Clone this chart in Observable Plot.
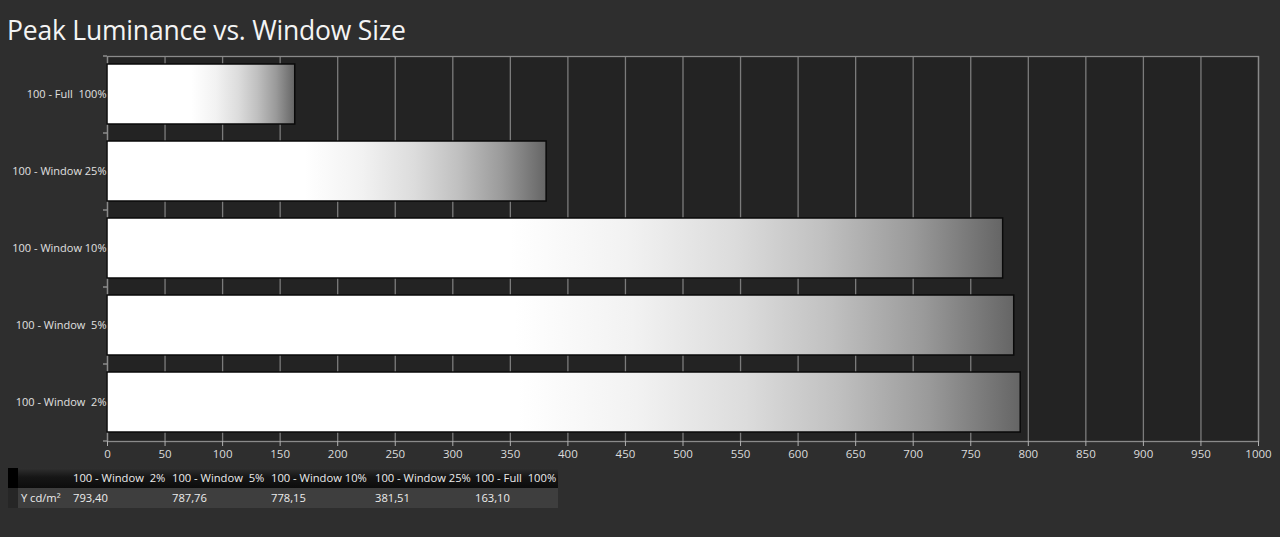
<!DOCTYPE html>
<html>
<head>
<meta charset="utf-8">
<script src="https://cdn.jsdelivr.net/npm/d3@7"></script>
<script src="https://cdn.jsdelivr.net/npm/@observablehq/plot@0.6"></script>
<style>
  html, body { margin: 0; padding: 0; background: #2e2e2e; width: 1280px; height: 537px; overflow: hidden; }
  body { position: relative; font-family: "Open Sans", "Noto Sans", sans-serif; }
  #title { position: absolute; left: 7px; top: 12px; font-size: 26.5px; color: #f4f4f4; white-space: pre; letter-spacing: -0.2px; }
  #chart { position: absolute; left: 0; top: 0; }
  #chart svg { white-space: pre; }
  #tbl { position: absolute; left: 8px; top: 468px; border-collapse: collapse; font-size: 11.2px; color: #ececec; white-space: pre; }
  #tbl td { padding: 0; height: 20px; line-height: 20px; overflow: hidden; }
  #tbl tr.h td { background: linear-gradient(#303030, #161616 45%, #0c0c0c); }
  #tbl tr.h td.k { background: #000; }
  #tbl tr.v td { background: #3e3e3e; }
  #tbl tr.v td.k { background: #262626; }
</style>
</head>
<body>
<div id="title">Peak Luminance vs. Window Size</div>
<div id="chart"></div>
<table id="tbl"></table>
<script>
// Data
const categories = ["100 - Full  100%", "100 - Window 25%", "100 - Window 10%", "100 - Window  5%", "100 - Window  2%"];
const values = [163.10, 381.51, 778.15, 787.76, 793.40];
const tableOrder = ["100 - Window  2%", "100 - Window  5%", "100 - Window 10%", "100 - Window 25%", "100 - Full  100%"];
const xTicks = d3.range(0, 1001, 50);
const unitLabel = "Y cd/m²";

const data = categories.map((c, i) => ({category: c, value: values[i]}));

const chart = Plot.plot({
  width: 1280,
  height: 471,
  marginTop: 56,
  marginBottom: 30,
  marginLeft: 107,
  marginRight: 22,
  style: {background: "transparent", color: "#dedede", fontFamily: "'Open Sans', 'Noto Sans', sans-serif", fontSize: "11px"},
  x: {domain: [0, 1000], ticks: xTicks, label: null},
  y: {domain: categories, paddingInner: 0.22, paddingOuter: 0.11, label: null},
  marks: [
    Plot.frame({fill: "#232323", stroke: null}),
    Plot.gridX(xTicks, {stroke: "#9a9a9a", strokeOpacity: 0.75, strokeWidth: 1.3}),
    Plot.frame({stroke: "#8a8a8a", strokeWidth: 1.3}),
    Plot.barX(data, {x: "value", y: "category", fill: "url(#lum)", stroke: "#0a0a0a", strokeWidth: 1.5}),
    Plot.ruleY(categories, {y: d => d, x1: -3.5, x2: 0, dy: -38.5, stroke: "#9a9a9a", strokeWidth: 1.3}),
    Plot.ruleY([categories[categories.length - 1]], {y: d => d, x1: -3.5, x2: 0, dy: 38.5, stroke: "#9a9a9a", strokeWidth: 1.3}),
    Plot.axisX({ticks: xTicks, tickFormat: d => String(d), tickSize: 5, tickPadding: 3, stroke: "#b0b0b0", fill: "#dcdcdc", fontSize: "11.5px", label: null}),
    Plot.axisY({tickSize: 0, tickPadding: 1, fill: "#e0e0e0", label: null})
  ]
});

// gradient definition for bars
const svg = d3.select(chart);
const defs = svg.insert("defs", ":first-child");
const g = defs.append("linearGradient").attr("id", "lum").attr("x1", "0").attr("x2", "1").attr("y1", "0").attr("y2", "0");
[[0, "#ffffff"], [0.45, "#ffffff"], [0.58, "#f2f2f2"], [0.7, "#dcdcdc"], [0.8, "#c0c0c0"], [0.9, "#9a9a9a"], [1, "#656565"]]
  .forEach(([o, c]) => g.append("stop").attr("offset", o).attr("stop-color", c));

document.getElementById("chart").appendChild(chart);

// Table below the chart
const colW = [10, 55, 99, 99, 104, 100, 83];
const tbl = d3.select("#tbl");
tbl.append("colgroup").selectAll("col").data(colW).join("col").style("width", d => d + "px");
const fmt = v => v.toFixed(2).replace(".", ",");
const h = tbl.append("tr").attr("class", "h");
h.append("td").attr("class", "k");
h.append("td");
tableOrder.forEach(c => h.append("td").text(c));
const r = tbl.append("tr").attr("class", "v");
r.append("td").attr("class", "k");
r.append("td").text(" " + unitLabel);
tableOrder.forEach(c => r.append("td").text(fmt(values[categories.indexOf(c)])));
tbl.style("table-layout", "fixed").style("width", d3.sum(colW) + "px");
</script>
</body>
</html>
